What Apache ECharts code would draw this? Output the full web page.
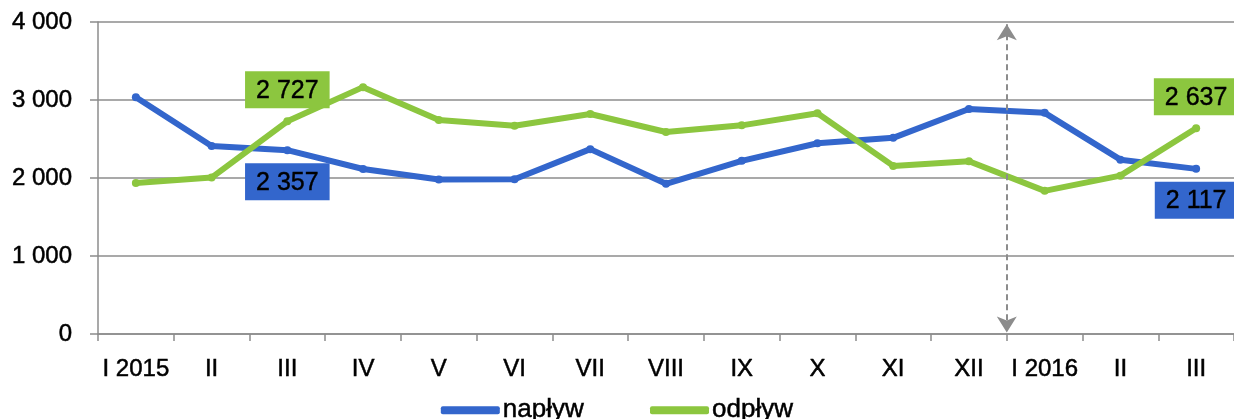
<!DOCTYPE html>
<html>
<head>
<meta charset="utf-8">
<script src="https://cdn.jsdelivr.net/npm/echarts@6/dist/echarts.min.js"></script>
<style>
html,body{margin:0;padding:0;background:#fff;}
#chart{width:1234px;height:419px;}
</style>
</head>
<body>
<div id="chart"></div>
<script>
var categories = ['I 2015','II','III','IV','V','VI','VII','VIII','IX','X','XI','XII','I 2016','II','III'];
var naplyw = [3035, 2410, 2357, 2115, 1980, 1985, 2370, 1925, 2220, 2445, 2515, 2885, 2835, 2235, 2117];
var odplyw = [1935, 2005, 2727, 3165, 2745, 2670, 2820, 2590, 2675, 2830, 2155, 2215, 1835, 2030, 2637];
var labeledIdx = [2, 14];
var yTicks = [0, 1000, 2000, 3000, 4000];
var arrowAt = 12; // boundary between XII and I 2016

var BLUE = '#3366CC', GREEN = '#8CC63F', GRAY = '#8c8c8c';
var FONT = '"Liberation Sans", Arial, sans-serif';
var THICK = { textBorderColor: '#000', textBorderWidth: 0.5 };

function fmt(v){ return String(Math.round(v)).replace(/\B(?=(\d{3})+(?!\d))/g, ' '); }

function build(values, color, pos){
  return values.map(function(v, i){
    if (labeledIdx.indexOf(i) >= 0) {
      return { value: v, label: {
        show: true, position: pos, distance: 9,
        formatter: function(p){ return fmt(p.value); },
        backgroundColor: color, color: '#000', fontFamily: FONT, fontSize: 25,
        textBorderColor: '#000', textBorderWidth: 0.4,
        padding: [7, 11, 5, 11]
      }};
    }
    return v;
  });
}

var chart = echarts.init(document.getElementById('chart'));
chart.setOption({
  animation: false,
  backgroundColor: '#fff',
  textStyle: { fontFamily: FONT },
  grid: { left: 98, top: 22, width: 1137, height: 312 },
  legend: {
    data: ['napływ', 'odpływ'],
    icon: 'roundRect',
    left: 'center', top: 392,
    itemWidth: 59, itemHeight: 8, itemGap: 66,
    textStyle: Object.assign({ fontSize: 26, color: '#000', fontFamily: FONT, padding: [0,0,0,-2] }, THICK)
  },
  xAxis: [{
    type: 'category', data: categories, boundaryGap: true,
    axisLine: { lineStyle: { color: GRAY, width: 1.5 } },
    axisTick: { show: true, length: 7, alignWithLabel: false, lineStyle: { color: GRAY, width: 1.5 } },
    axisLabel: Object.assign({ color: '#000', fontSize: 24, fontFamily: FONT, margin: 23, interval: 0 }, THICK),
    splitLine: { show: false }
  }, {
    type: 'value', min: 0, max: categories.length, show: false
  }],
  yAxis: {
    type: 'value', min: yTicks[0], max: yTicks[yTicks.length-1], interval: 1000,
    axisLine: { show: true, lineStyle: { color: GRAY, width: 1.5 } },
    axisTick: { show: true, inside: false, length: 8, lineStyle: { color: GRAY, width: 1.5 } },
    axisLabel: Object.assign({ color: '#000', fontSize: 24, fontFamily: FONT, margin: 26, formatter: fmt }, THICK),
    splitLine: { show: true, lineStyle: { color: GRAY, width: 1.5 } }
  },
  series: [{
    name: 'napływ', type: 'line', data: build(naplyw, BLUE, 'bottom'),
    color: BLUE, symbol: 'circle', symbolSize: 8, showSymbol: true,
    lineStyle: { width: 6, color: BLUE, join: 'round' }, z: 3
  }, {
    name: 'odpływ', type: 'line', data: build(odplyw, GREEN, 'top'),
    color: GREEN, symbol: 'circle', symbolSize: 8, showSymbol: true,
    lineStyle: { width: 6, color: GREEN, join: 'round' }, z: 3
  }, {
    name: 'arrow', type: 'line', xAxisIndex: 1, data: [], silent: true, z: 2,
    markLine: {
      silent: true, animation: false,
      symbol: ['arrow', 'arrow'], symbolSize: [15, 16],
      label: { show: false },
      lineStyle: { color: GRAY, type: [6, 4], width: 2 },
      data: [[ { coord: [arrowAt, yTicks[yTicks.length-1] - 30] }, { coord: [arrowAt, yTicks[0] + 20] } ]]
    }
  }]
});
</script>
</body>
</html>
